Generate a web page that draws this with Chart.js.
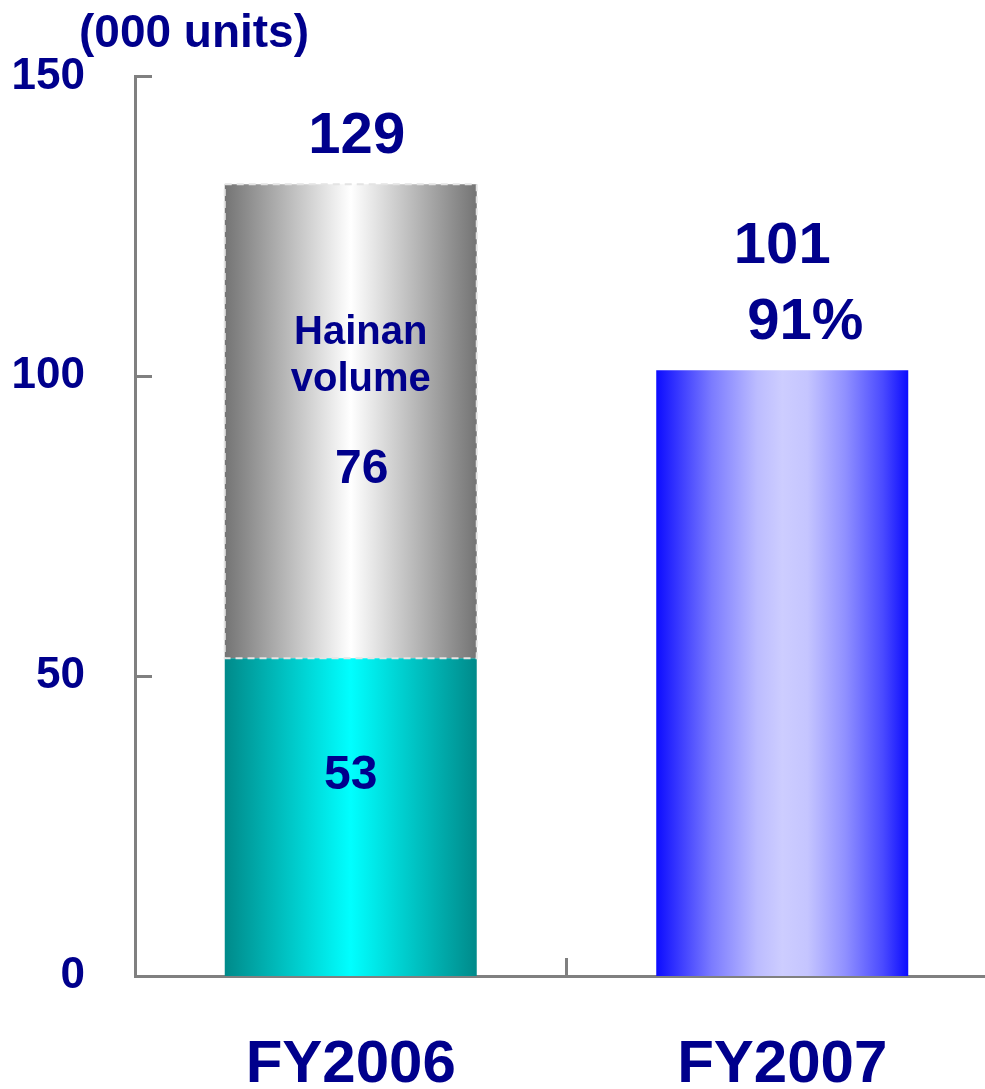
<!DOCTYPE html>
<html>
<head>
<meta charset="utf-8">
<script src="https://cdn.jsdelivr.net/npm/chart.js@4.4.1/dist/chart.umd.min.js"></script>
<style>
  html, body { margin: 0; padding: 0; background: #ffffff; overflow: hidden; }
  #wrap { position: relative; width: 1000px; height: 1089px; }
</style>
</head>
<body>
<div id="wrap"><canvas id="c" width="1000" height="1089"></canvas></div>
<script>
// ---- data ----
const categories = ['FY2006', 'FY2007'];
const baseValues = [53, 101];        // teal (FY2006) / blue (FY2007) bars
const hainanValues = [79, null];     // grey stacked segment as drawn
const yTickValues = [0, 50, 100, 150];
const totalLabels = ['129', '101'];
const baseLabels = ['53', null];
const hainanLabels = ['76', null];
const shareLabels = [null, '91%'];
const unitLabel = '(000 units)';
const hainanText = ['Hainan', 'volume'];

const NAVY = '#00008C';
const FONT = '"Liberation Sans", Arial, sans-serif';
const AXIS = '#808080';

const gradStops = {
  teal: [[0, '#008a8a'], [0.5, '#00ffff'], [1, '#008a8a']],
  grey: [[0, '#747474'], [0.5, '#ffffff'], [1, '#747474']],
  blue: [[0, '#0c0cff'], [0.22, '#7b7bff'], [0.4, '#bcbcff'], [0.5, '#cdcdff'], [0.6, '#c5c5ff'], [0.75, '#9090ff'], [0.9, '#4a4aff'], [1, '#0c0cff']]
};

function makeGrad(ctx, x0, x1, stops) {
  const g = ctx.createLinearGradient(x0, 0, x1, 0);
  stops.forEach(s => g.addColorStop(s[0], s[1]));
  return g;
}

const gradientPlugin = {
  id: 'grads',
  beforeDatasetsDraw(chart) {
    const ctx = chart.ctx;
    chart.data.datasets.forEach((ds, di) => {
      const meta = chart.getDatasetMeta(di);
      meta.data.forEach((el, i) => {
        const x0 = el.x - el.width / 2, x1 = el.x + el.width / 2;
        let key = ds.gradKeys[i];
        if (!key) return;
        el.options = Object.assign({}, el.options, { backgroundColor: makeGrad(ctx, x0, x1, gradStops[key]) });
      });
    });
  },
  afterDatasetsDraw(chart) {
    const ctx = chart.ctx;
    const meta = chart.getDatasetMeta(1);
    const el = meta.data[0];
    if (el) {
      const x0 = el.x - el.width / 2;
      ctx.save();
      ctx.strokeStyle = '#e4e4e4';
      ctx.lineWidth = 2;
      ctx.setLineDash([7, 5]);
      ctx.strokeRect(x0, el.y, el.width, el.base - el.y);
      ctx.restore();
    }
  },
  afterDraw(chart) {
    const ctx = chart.ctx;
    const ys = chart.scales.y, xs = chart.scales.x;
    const area = chart.chartArea;
    ctx.save();
    // inner tick marks
    ctx.strokeStyle = AXIS;
    ctx.lineWidth = 3;
    ctx.setLineDash([]);
    yTickValues.forEach(v => {
      if (v === 0) return;
      const py = Math.round(ys.getPixelForValue(v)) + 0.5;
      ctx.beginPath();
      ctx.moveTo(area.left, py);
      ctx.lineTo(area.left + 17, py);
      ctx.stroke();
    });
    const mid = (xs.getPixelForValue(0) + xs.getPixelForValue(1)) / 2;
    ctx.beginPath();
    ctx.moveTo(mid, area.bottom);
    ctx.lineTo(mid, area.bottom - 18);
    ctx.stroke();

    // unit label
    ctx.fillStyle = NAVY;
    ctx.textAlign = 'center';
    ctx.textBaseline = 'alphabetic';
    ctx.font = 'bold 46px ' + FONT;
    ctx.fillText(unitLabel, 194, 47);

    // data labels
    const m0 = chart.getDatasetMeta(0), m1 = chart.getDatasetMeta(1);
    categories.forEach((c, i) => {
      const base = m0.data[i];
      const hain = m1.data[i];
      const top = (hain && hainanValues[i] != null) ? hain.y : base.y;
      ctx.font = 'bold 58px ' + FONT;
      ctx.fillText(totalLabels[i], base.x + (i === 0 ? 6 : 0), top - (shareLabels[i] ? 107 : 31));
      if (shareLabels[i]) ctx.fillText(shareLabels[i], base.x + 23, top - 31);
      if (baseLabels[i]) {
        ctx.font = 'bold 48px ' + FONT;
        ctx.fillText(baseLabels[i], base.x, base.y + 131);
      }
      if (hainanLabels[i] && hain) {
        ctx.font = 'bold 40px ' + FONT;
        ctx.fillText(hainanText[0], hain.x + 10, hain.y + 160);
        ctx.fillText(hainanText[1], hain.x + 10, hain.y + 207);
        ctx.font = 'bold 48px ' + FONT;
        ctx.fillText(hainanLabels[i], hain.x + 11, hain.y + 299);
      }
    });
    ctx.restore();
  }
};

new Chart(document.getElementById('c'), {
  type: 'bar',
  data: {
    labels: categories,
    datasets: [
      { label: 'Volume', data: baseValues, gradKeys: ['teal', 'blue'], backgroundColor: ['#00c0c0', '#8080ff'], borderWidth: 0, barPercentage: 0.584, categoryPercentage: 1 },
      { label: 'Hainan volume', data: hainanValues, gradKeys: ['grey', null], backgroundColor: ['#bbbbbb', '#bbbbbb'], borderWidth: 0, barPercentage: 0.584, categoryPercentage: 1 }
    ]
  },
  options: {
    responsive: false,
    animation: false,
    devicePixelRatio: 1,
    layout: { padding: { top: 74, right: 2, left: 0, bottom: 0 } },
    plugins: { legend: { display: false }, tooltip: { enabled: false }, title: { display: false } },
    scales: {
      x: {
        stacked: true,
        offset: true,
        grid: { display: false, drawTicks: false },
        border: { display: true, color: AXIS, width: 3 },
        ticks: { color: NAVY, font: { family: FONT, size: 60, weight: 'bold' }, padding: 53, maxRotation: 0 },
        afterFit(scale) { scale.height = 113; }
      },
      y: {
        stacked: true,
        min: 0, max: 150,
        grid: { display: false, drawTicks: false },
        border: { display: true, color: AXIS, width: 3 },
        afterBuildTicks(scale) { scale.ticks = yTickValues.map(v => ({ value: v })); },
        ticks: { color: NAVY, font: { family: FONT, size: 44, weight: 'bold' }, padding: 50 },
        afterFit(scale) { scale.width = 135; }
      }
    }
  },
  plugins: [gradientPlugin]
});
</script>
</body>
</html>
